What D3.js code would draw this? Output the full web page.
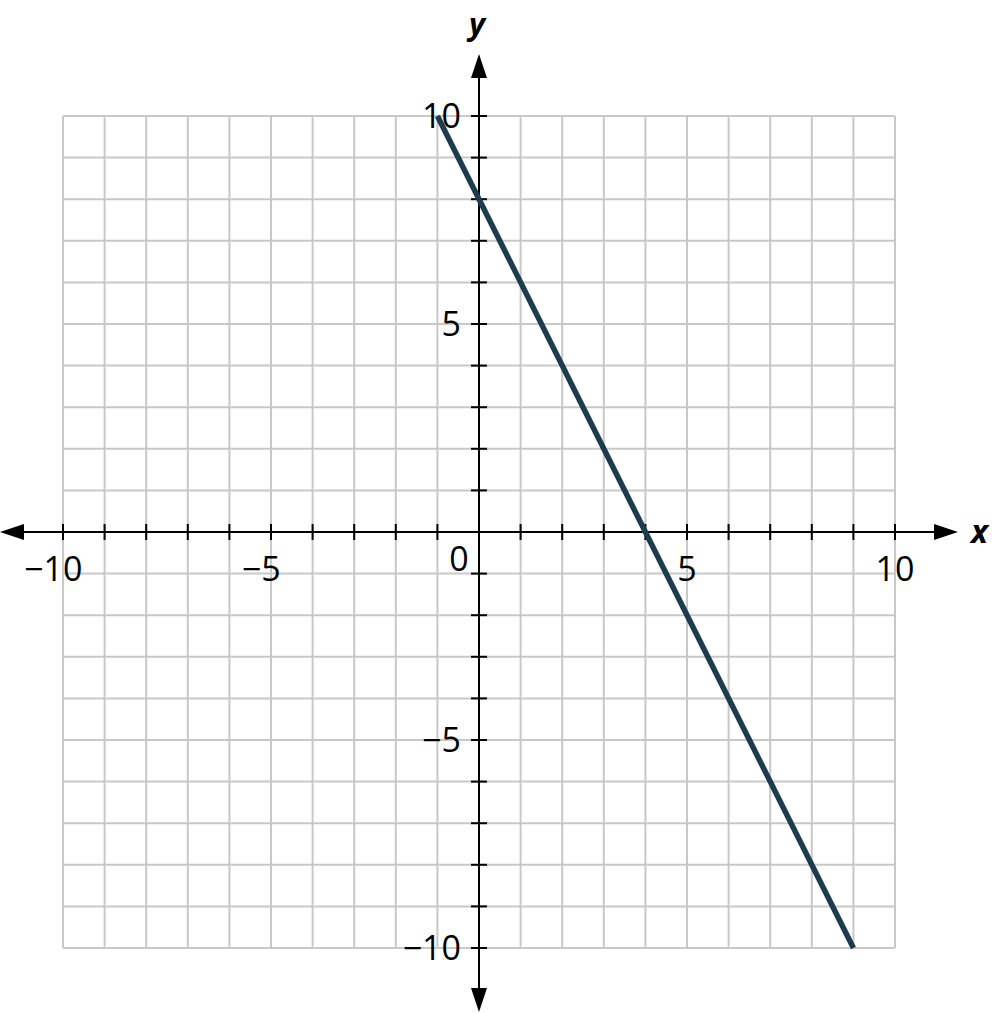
<!DOCTYPE html>
<html><head><meta charset="utf-8">
<script src="https://cdn.jsdelivr.net/npm/d3@7"></script>
<style>body{margin:0;background:#fff}svg{display:block}</style>
</head><body>
<script>
const xDomain = [-10, 10];
const yDomain = [-10, 10];
const gridValues = d3.range(-10, 11, 1);
const tickLabelsX = [-10, -5, 5, 10];
const tickLabelsY = [10, 5, -5, -10];
const lineXs = [-1, 9];
const lineYs = [10, -10];

const W = 995, H = 1013;
const svg = d3.select("body").append("svg").attr("width", W).attr("height", H);
const x = d3.scaleLinear().domain(xDomain).range([63, 895]);
const y = d3.scaleLinear().domain(yDomain).range([948, 116]);
const font = "'Open Sans', sans-serif";
const fs = 34;

const grid = svg.append("g").attr("stroke", "#c8c8c8").attr("stroke-width", 2);
gridValues.forEach(v => {
  grid.append("line").attr("x1", x(v)).attr("x2", x(v)).attr("y1", y(10)).attr("y2", y(-10));
  grid.append("line").attr("y1", y(v)).attr("y2", y(v)).attr("x1", x(-10)).attr("x2", x(10));
});

const ax = svg.append("g").attr("stroke", "#000").attr("stroke-width", 2);
ax.append("line").attr("x1", 20).attr("x2", 940).attr("y1", y(0)).attr("y2", y(0));
ax.append("line").attr("x1", x(0)).attr("x2", x(0)).attr("y1", 75).attr("y2", 992);
gridValues.filter(v => v !== 0).forEach(v => {
  ax.append("line").attr("x1", x(v)).attr("x2", x(v)).attr("y1", y(0) - 8).attr("y2", y(0) + 8);
  ax.append("line").attr("y1", y(v)).attr("y2", y(v)).attr("x1", x(0) - 8).attr("x2", x(0) + 8);
});
// arrows
const arr = svg.append("g").attr("fill", "#000");
const x0 = x(0), y0 = y(0);
arr.append("path").attr("d", `M0,${y0} L24,${y0-8} L24,${y0+8}Z`);
arr.append("path").attr("d", `M958,${y0} L934,${y0-8} L934,${y0+8}Z`);
arr.append("path").attr("d", `M${x0},54 L${x0-8},78 L${x0+8},78Z`);
arr.append("path").attr("d", `M${x0},1012 L${x0-8},988 L${x0+8},988Z`);

const txt = svg.append("g").attr("font-family", font).attr("font-size", fs).attr("fill", "#000");
tickLabelsX.forEach(v => {
  const t = txt.append("text").attr("x", x(v)).attr("y", 581).attr("text-anchor", "middle").text(String(Math.abs(v)));
  if (v < 0) {
    const bb = t.node().getBBox();
    txt.append("text").attr("x", bb.x).attr("y", 581).attr("text-anchor", "end").text("\u2212");
  }
});
tickLabelsY.forEach(v => {
  txt.append("text").attr("x", 461).attr("y", y(v) + 12).attr("text-anchor", "end").text(v < 0 ? "\u2212" + Math.abs(v) : String(v));
});
txt.append("text").attr("x", 459).attr("y", 571).attr("text-anchor", "middle").text("0");

svg.append("text").attr("x", 971).attr("y", 543).attr("font-family", font).attr("font-size", 32)
  .attr("font-weight", "bold").attr("font-style", "italic").text("x");
svg.append("text").attr("x", 469).attr("y", 35).attr("font-family", font).attr("font-size", 31)
  .attr("font-weight", "bold").attr("font-style", "italic").text("y");

const pts = lineXs.map((v, i) => [v, lineYs[i]]);
svg.append("path").datum(pts).attr("fill", "none").attr("stroke", "#1b3d4d").attr("stroke-width", 5.5)
  .attr("d", d3.line().x(d => x(d[0])).y(d => y(d[1])));
</script>
</body></html>
